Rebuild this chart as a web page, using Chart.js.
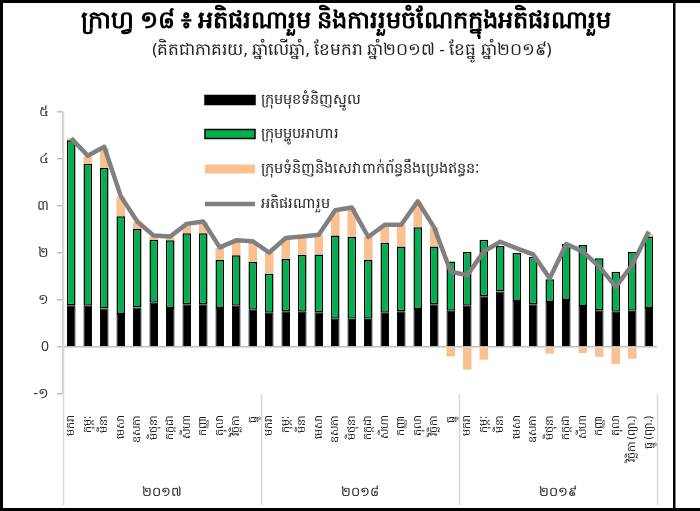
<!DOCTYPE html>
<html>
<head>
<meta charset="utf-8">
<script src="https://cdn.jsdelivr.net/npm/chart.js@4.4.1/dist/chart.umd.min.js"></script>
<style>
html,body{margin:0;padding:0;background:#fff;}
#wrap{position:relative;width:700px;height:511px;}
canvas{position:absolute;left:0;top:0;}
</style>
</head>
<body>
<div id="wrap"><canvas id="c" width="700" height="511"></canvas></div>
<script>
const titleText = 'ក្រាហ្វ ១៨ ៖ អតិផរណារួម និងការរួមចំណែកក្នុងអតិផរណារួម';
const subtitleText = '(គិតជាភាគរយ, ឆ្នាំលើឆ្នាំ, ខែមករា ឆ្នាំ២០១៧ - ខែធ្នូ ឆ្នាំ២០១៩)';
const monthNames = ['មករា','កុម្ភៈ','មីនា','មេសា','ឧសភា','មិថុនា','កក្កដា','សីហា','កញ្ញា','តុលា','វិច្ឆិកា','ធ្នូ'];
const categories = [].concat(monthNames, monthNames,
  ['មករា','កុម្ភៈ','មីនា','មេសា','ឧសភា','មិថុនា','កក្កដា','សីហា','កញ្ញា','តុលា','វិច្ឆិកា (ព្យា.)','ធ្នូ (ព្យា.)']);
const years = ['២០១៧','២០១៨','២០១៩'];
const seriesNames = ['ក្រុមមុខទំនិញស្នូល','ក្រុមម្ហូបអាហារ','ក្រុមទំនិញនិងសេវាពាក់ព័ន្ធនឹងប្រេងឥន្ធនៈ','អតិផរណារួម'];
const coreValues = [0.89,0.88,0.82,0.70,0.84,0.94,0.83,0.91,0.91,0.83,0.88,0.79,
                    0.73,0.76,0.75,0.74,0.60,0.60,0.60,0.73,0.76,0.81,0.91,0.77,
                    0.88,1.08,1.18,0.98,0.91,0.96,1.00,0.87,0.78,0.75,0.77,0.83];
const foodValues = [3.51,3.02,2.99,2.08,1.67,1.34,1.44,1.51,1.51,1.02,1.07,1.02,
                    0.83,1.11,1.21,1.23,1.77,1.74,1.25,1.49,1.38,1.74,1.23,1.05,
                    1.14,1.20,0.97,1.02,1.01,0.48,1.19,1.30,1.11,0.85,1.25,1.52];
const energyValues = [0.04,0.15,0.42,0.42,0.15,0.08,0.06,0.19,0.24,0.26,0.32,0.43,
                      0.45,0.45,0.39,0.42,0.53,0.62,0.49,0.38,0.46,0.53,0.40,-0.20,
                      -0.48,-0.27,0.00,0.00,0.00,-0.14,-0.02,-0.13,-0.21,-0.36,-0.25,0.06];
const headlineValues = [4.44,4.07,4.26,3.21,2.67,2.37,2.35,2.62,2.67,2.12,2.27,2.25,
                        2.01,2.32,2.35,2.39,2.91,2.97,2.34,2.60,2.60,3.10,2.54,1.60,
                        1.53,2.03,2.24,2.10,1.97,1.46,2.19,2.03,1.71,1.28,1.75,2.46];
const yTickLabels = {'-1':'-១','0':'0','1':'១','2':'២','3':'៣','4':'៤','5':'៥'};

const KH = "'Noto Sans','DejaVu Sans',sans-serif";

const decorPlugin = {
  id: 'decor',
  beforeDraw(chart) {
    const ctx = chart.ctx;
    ctx.save();
    ctx.fillStyle = '#fff';
    ctx.fillRect(0, 0, chart.width, chart.height);
    ctx.restore();
  },
  afterDraw(chart) {
    const ctx = chart.ctx;
    const x = chart.scales.x;
    const ca = chart.chartArea;
    ctx.save();
    // title
    ctx.fillStyle = '#000';
    ctx.textAlign = 'center';
    ctx.textBaseline = 'middle';
    ctx.font = 'bold 24px ' + KH;
    ctx.fillText(titleText, 346, 21);
    ctx.font = '17px ' + KH;
    ctx.fillStyle = '#222';
    ctx.fillText(subtitleText, 352, 50);

    // category group separators and year labels
    const step = (x.getPixelForValue(1) - x.getPixelForValue(0));
    const left = x.getPixelForValue(0) - step / 2;
    ctx.strokeStyle = '#d9d9d9';
    ctx.lineWidth = 1.5;
    for (let g = 0; g <= years.length; g++) {
      const px = Math.round(left + step * 12 * g) + 0.5;
      ctx.beginPath();
      ctx.moveTo(px, g === 0 ? ca.top : ca.bottom);
      ctx.lineTo(px, 505);
      ctx.stroke();
    }
    ctx.fillStyle = '#222';
    ctx.font = '13px ' + KH;
    ctx.textBaseline = 'middle';
    years.forEach((yr, g) => {
      const cx = left + step * (12 * g + 6);
      ctx.fillText(yr, cx, 492);
    });

    // legend
    const items = chart.data.datasets;
    const lx = 205, lw = 50;
    const ys = [100, 134, 169, 204];
    ctx.font = '14.5px ' + KH;
    ctx.textAlign = 'left';
    ctx.textBaseline = 'middle';
    [0, 1, 2, 3].forEach((i) => {
      const ds = items[i];
      const yy = ys[i];
      if (ds.type === 'line') {
        ctx.strokeStyle = ds.borderColor;
        ctx.lineWidth = 4.5;
        ctx.beginPath();
        ctx.moveTo(lx, yy);
        ctx.lineTo(lx + lw, yy);
        ctx.stroke();
      } else {
        ctx.fillStyle = ds.backgroundColor;
        ctx.fillRect(lx, yy - 4.5, lw, 9);
        if (ds.borderWidth) {
          ctx.strokeStyle = '#000';
          ctx.lineWidth = 1.5;
          ctx.strokeRect(lx, yy - 4.5, lw, 9);
        }
      }
      ctx.fillStyle = '#222';
      ctx.fillText(ds.label, lx + lw + 6, yy);
    });

    // frame
    ctx.fillStyle = '#000';
    ctx.fillRect(0, 0, 700, 3);
    ctx.fillRect(0, 508, 700, 3);
    ctx.fillRect(0, 0, 3, 511);
    ctx.fillRect(673, 0, 2.5, 511);
    ctx.restore();
  }
};

new Chart(document.getElementById('c'), {
  data: {
    labels: categories,
    datasets: [
      { type: 'bar', label: seriesNames[0], data: coreValues, backgroundColor: '#000000',
        borderColor: '#000000', borderWidth: 1, stack: 'bars', order: 1,
        barPercentage: 0.52, categoryPercentage: 1 },
      { type: 'bar', label: seriesNames[1], data: foodValues, backgroundColor: '#00b050',
        borderColor: '#000000', borderWidth: 1.5, borderSkipped: false, stack: 'bars', order: 1,
        barPercentage: 0.52, categoryPercentage: 1 },
      { type: 'bar', label: seriesNames[2], data: energyValues, backgroundColor: '#fac090',
        borderWidth: 0, stack: 'bars', order: 1,
        barPercentage: 0.52, categoryPercentage: 1 },
      { type: 'line', label: seriesNames[3], data: headlineValues, borderColor: '#808080',
        backgroundColor: '#808080', borderWidth: 4.5, pointRadius: 0, tension: 0,
        borderJoinStyle: 'round', stack: 'line', order: 0 }
    ]
  },
  options: {
    responsive: false,
    animation: false,
    layout: { padding: { top: 112, left: 0, right: 43, bottom: 0 } },
    plugins: { legend: { display: false }, tooltip: { enabled: false }, title: { display: false } },
    scales: {
      x: {
        stacked: true,
        grid: { display: false },
        border: { display: false },
        ticks: {
          autoSkip: false, minRotation: 90, maxRotation: 90, padding: 14,
          color: '#222', font: { family: KH, size: 11 }
        },
        afterFit(scale) { scale.height = 117; }
      },
      y: {
        stacked: true,
        min: -1, max: 5,
        grid: {
          drawOnChartArea: true,
          color: (c) => (c.tick && c.tick.value === 0 ? '#bfbfbf' : 'rgba(0,0,0,0)'),
          tickColor: '#bfbfbf', tickLength: 6, lineWidth: 1.5
        },
        border: { display: true, color: '#d0d0d0', width: 1.5 },
        ticks: {
          stepSize: 1, padding: 8, color: '#333', font: { family: KH, size: 14 },
          callback: (v) => yTickLabels[String(v)]
        },
        afterFit(scale) { scale.width = 63; }
      }
    }
  },
  plugins: [decorPlugin]
});
</script>
</body>
</html>
